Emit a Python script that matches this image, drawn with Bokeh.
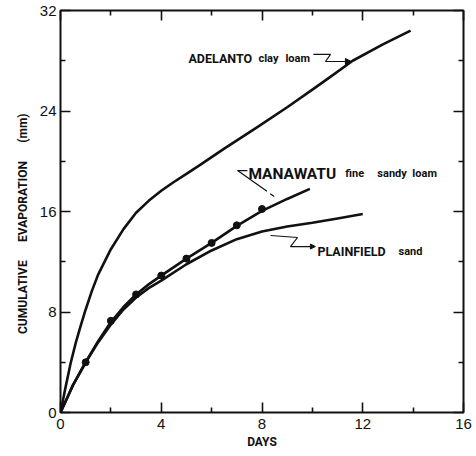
from bokeh.plotting import figure
from bokeh.models import Range1d, FixedTicker, LinearAxis, Label, Arrow, NormalHead
from bokeh.embed import file_html
from bokeh.resources import INLINE

# ---- data ----
adelanto_days = [0, 0.2, 0.4, 0.6, 0.8, 1.0, 1.25, 1.5, 2.0, 2.5, 3.0, 3.5, 4.0, 4.5, 5.0, 5.5, 6.5, 7.8, 9.0, 10.0, 10.7, 11.6, 12.8, 13.9]
adelanto_evap = [0, 2.0, 3.9, 5.5, 6.9, 8.2, 9.7, 11.0, 13.0, 14.6, 15.9, 16.85, 17.65, 18.35, 19.0, 19.65, 21.0, 22.7, 24.3, 25.7, 26.7, 28.0, 29.3, 30.4]

manawatu_days = [0, 0.25, 0.5, 0.75, 1.0, 1.5, 2.0, 2.5, 3.0, 3.5, 4.0, 5.0, 6.0, 7.0, 8.0, 9.0, 9.9]
manawatu_evap = [0, 1.1, 2.2, 3.1, 4.0, 5.7, 7.2, 8.4, 9.4, 10.2, 10.9, 12.25, 13.5, 14.85, 16.05, 17.0, 17.8]

manawatu_obs_days = [1, 2, 3, 4, 5, 6, 7, 8]
manawatu_obs_evap = [4.0, 7.3, 9.4, 10.9, 12.25, 13.5, 14.9, 16.2]

plainfield_days = [0, 0.25, 0.5, 1.0, 1.5, 2.0, 2.5, 3.0, 3.5, 4.0, 5.0, 6.0, 7.0, 8.0, 9.0, 10.0, 11.0, 12.0]
plainfield_evap = [0, 1.1, 2.2, 4.0, 5.6, 7.0, 8.2, 9.15, 9.9, 10.5, 11.8, 12.9, 13.8, 14.4, 14.8, 15.1, 15.45, 15.8]

x_ticks = [0, 4, 8, 12, 16]
x_minor = [2, 6, 10, 14]
y_ticks = [0, 8, 16, 24, 32]
y_minor = [4, 12, 20, 28]

# annotation words: text, x (days), y (mm, baseline), size
word_text = ["ADELANTO", "clay", "loam", "MANAWATU", "fine", "sandy", "loam", "PLAINFIELD", "sand"]
word_x = [5.08, 7.86, 8.93, 7.46, 11.31, 12.58, 13.97, 10.20, 13.42]
word_y = [28.18, 28.18, 28.18, 19.02, 19.02, 19.02, 19.02, 12.82, 12.82]
word_size = ["12.5px", "11px", "11px", "15.5px", "11px", "11px", "11px", "12.5px", "11px"]

# leader lines
adel_lead_x = [10.04, 10.72, 10.52]
adel_lead_y = [28.5, 28.5, 27.94]
adel_arrow = (10.52, 27.94, 11.55, 27.94)
mana_lead_x = [7.03, 7.42]
mana_lead_y = [19.26, 19.26]
mana_diag = ([7.03, 8.65], [19.26, 16.96])
plain_lead_x = [8.34, 9.41, 9.13]
plain_lead_y = [14.09, 13.93, 13.21]
plain_arrow = (9.13, 13.21, 10.12, 13.21)

INK = "#111111"
LABELFONT = "Roboto"
TICKFONT = "Liberation Sans"

p = figure(width=476, height=456, x_range=Range1d(0, 16), y_range=Range1d(0, 32),
           output_backend="svg", toolbar_location=None,
           min_border_left=60, min_border_right=13, min_border_top=10, min_border_bottom=44)
p.background_fill_color = "white"
p.border_fill_color = "white"
p.grid.visible = False
p.outline_line_color = INK
p.outline_line_width = 2

def style_axis(ax, ticks, minor, labels=True):
    ax.ticker = FixedTicker(ticks=ticks, minor_ticks=minor)
    ax.axis_line_color = None
    ax.major_tick_line_color = INK
    ax.major_tick_line_width = 1.6
    ax.minor_tick_line_color = INK
    ax.minor_tick_line_width = 1.6
    ax.major_tick_in = 10
    ax.major_tick_out = 0
    ax.minor_tick_in = 5
    ax.minor_tick_out = 0
    if labels:
        ax.major_label_text_font = TICKFONT
        ax.major_label_text_font_size = "15px"
        ax.major_label_text_color = INK
    else:
        ax.major_label_text_color = None
        ax.major_label_text_font_size = "1px"
        ax.major_label_standoff = 0

xa = p.xaxis[0]
style_axis(xa, x_ticks, x_minor)
xa.major_label_standoff = 6
xa.axis_label = "DAYS"
xa.axis_label_text_font = LABELFONT
xa.axis_label_text_font_style = "bold"
xa.axis_label_text_font_size = "12px"
xa.axis_label_text_color = INK
xa.axis_label_standoff = 3

ya = p.yaxis[0]
style_axis(ya, y_ticks, y_minor)
ya.major_label_standoff = 4
ya.axis_label = "CUMULATIVE\u2003\u2002EVAPORATION\u2003\u2002(mm)\u2003\u2003"
ya.axis_label_text_font = LABELFONT
ya.axis_label_text_font_style = "bold"
ya.axis_label_text_font_size = "12px"
ya.axis_label_text_color = INK
ya.axis_label_standoff = 7

top = LinearAxis()
style_axis(top, x_ticks, x_minor, labels=False)
p.add_layout(top, "above")
right = LinearAxis()
style_axis(right, y_ticks, y_minor, labels=False)
p.add_layout(right, "right")

# curves
p.line(adelanto_days, adelanto_evap, line_color=INK, line_width=2.6, line_join="round")
p.line(manawatu_days, manawatu_evap, line_color=INK, line_width=2.6, line_join="round")
p.line(plainfield_days, plainfield_evap, line_color=INK, line_width=2.6, line_join="round")
p.scatter(manawatu_obs_days, manawatu_obs_evap, size=7, color=INK)

# labels
for t, x, y, s in zip(word_text, word_x, word_y, word_size):
    p.add_layout(Label(x=x, y=y, text=t, text_font=LABELFONT, text_font_style="bold",
                       text_font_size=s, text_color=INK, text_baseline="alphabetic",
                       text_align="left"))

# leaders
p.line(adel_lead_x, adel_lead_y, line_color=INK, line_width=1.2)
p.add_layout(Arrow(x_start=adel_arrow[0], y_start=adel_arrow[1], x_end=adel_arrow[2], y_end=adel_arrow[3],
                   line_color=INK, line_width=1.2,
                   end=NormalHead(size=6, line_color=INK, fill_color=INK, line_width=1)))
p.line(mana_lead_x, mana_lead_y, line_color=INK, line_width=1.2)
p.line(mana_diag[0], mana_diag[1], line_color=INK, line_width=1.2, line_dash="36 4 5 30")
p.line(plain_lead_x, plain_lead_y, line_color=INK, line_width=1.2)
p.add_layout(Arrow(x_start=plain_arrow[0], y_start=plain_arrow[1], x_end=plain_arrow[2], y_end=plain_arrow[3],
                   line_color=INK, line_width=1.2,
                   end=NormalHead(size=5, line_color=INK, fill_color=INK, line_width=1)))

open("out.html", "w").write(file_html(p, INLINE))
